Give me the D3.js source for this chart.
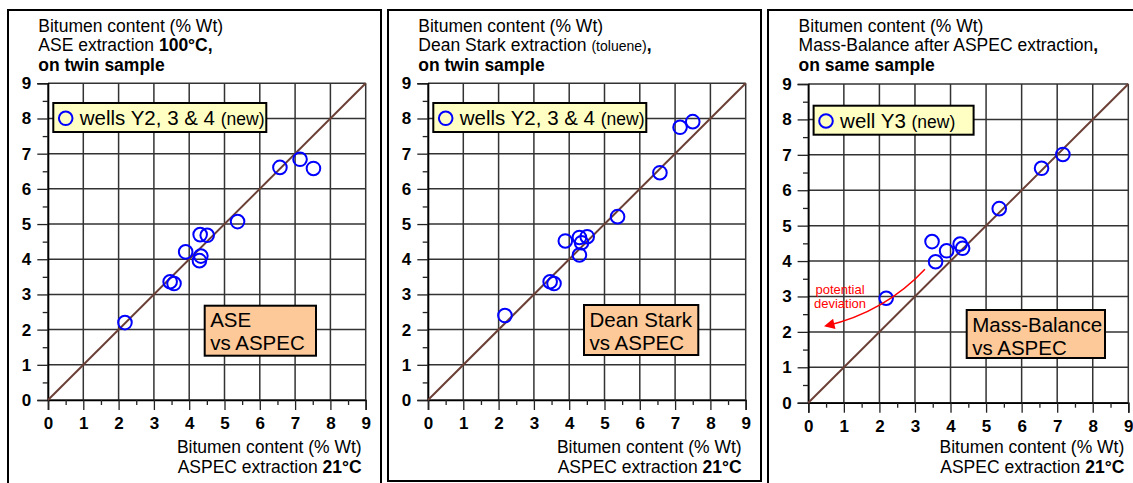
<!DOCTYPE html>
<html>
<head>
<meta charset="utf-8">
<script src="https://cdn.jsdelivr.net/npm/d3@7"></script>
<style>
  body { margin: 0; background: #fff; }
  svg { display: block; font-family: "Liberation Sans", Arial, sans-serif; }
</style>
</head>
<body>
<div class="canvas"></div>
<script>
// ---- data ----
const ticks = [0, 1, 2, 3, 4, 5, 6, 7, 8, 9];
const halfTicks = [0.5, 1.5, 2.5, 3.5, 4.5, 5.5, 6.5, 7.5, 8.5];

const aspecA = [2.18, 3.46, 3.57, 3.90, 4.31, 4.51, 4.33, 4.29, 5.37, 6.57, 7.14, 7.52];
const aseVals = [2.20, 3.36, 3.31, 4.21, 4.70, 4.68, 4.09, 3.96, 5.07, 6.61, 6.84, 6.58];

const aspecB = [2.18, 3.46, 3.57, 3.89, 4.29, 4.35, 4.51, 4.29, 5.37, 6.57, 7.14, 7.50];
const deanVals = [2.40, 3.36, 3.31, 4.52, 4.62, 4.47, 4.64, 4.12, 5.21, 6.46, 7.75, 7.91];

const aspecC = [2.19, 3.48, 3.58, 3.89, 4.27, 4.34, 5.37, 6.56, 7.16];
const massVals = [2.95, 4.55, 3.98, 4.29, 4.48, 4.36, 5.48, 6.62, 7.01];

const legendLabels = ["wells Y2, 3 & 4", "wells Y2, 3 & 4", "well Y3"];
const boxLabels = [["ASE", "vs ASPEC"], ["Dean Stark", "vs ASPEC"], ["Mass-Balance", "vs ASPEC"]];

// deviation arrow in data units: start, control, end
const devArrow = [[3.28, 3.77], [2.15, 2.56], [0.5, 2.17]];

const width = 1133, height = 483;
const font = 17.5;

const svg = d3.select('.canvas').append('svg')
  .attr("width", width)
  .attr("height", height);

svg.append("defs").append("marker")
  .attr("id", "redhead")
  .attr("viewBox", "0 0 10 10")
  .attr("refX", 8).attr("refY", 5)
  .attr("markerWidth", 9).attr("markerHeight", 7)
  .attr("orient", "auto")
  .append("path")
  .attr("d", "M0,0 L10,5 L0,10 z")
  .attr("fill", "#ff0000");

const panels = [
  { left: 8, right: 381, bottom: 492, x0: 48, x9: 365.7, y0: 400, y9: 83.3,
    xs: aspecA, ys: aseVals, legendW: 213, box: [204.7, 305.7, 111.3, 50] },
  { left: 388, right: 761, bottom: 481, x0: 428, x9: 745.7, y0: 400, y9: 83.3,
    xs: aspecB, ys: deanVals, legendW: 213, box: [584, 305, 114.3, 50] },
  { left: 768, right: 1141, bottom: 492, x0: 808.3, x9: 1128.3, y0: 402.7, y9: 84,
    xs: aspecC, ys: massVals, legendW: 160, box: [966.7, 310, 138.3, 48] }
];

panels.forEach((p, idx) => {
  const g = svg.append('g');

  // panel frame
  g.append('rect')
    .attr("x", p.left).attr("y", 10)
    .attr("width", p.right - p.left).attr("height", p.bottom - 10)
    .attr("fill", "none").attr("stroke", "#000").attr("stroke-width", 2);

  const x = d3.scaleLinear().domain([0, 9]).range([p.x0, p.x9]);
  const y = d3.scaleLinear().domain([0, 9]).range([p.y0, p.y9]);

  // title lines
  const tx = p.x0 - 9.7;
  g.append('text').attr("x", tx).attr("y", 31.7).style("font-size", font + "px")
    .text("Bitumen content (% Wt)");
  const t2 = g.append('text').attr("x", tx).attr("y", 51.2).style("font-size", font + "px");
  const t3 = g.append('text').attr("x", tx).attr("y", 70.5).style("font-size", font + "px")
    .style("font-weight", "bold");
  if (idx === 0) {
    t2.append('tspan').text("ASE extraction ");
    t2.append('tspan').style("font-weight", "bold").text("100°C,");
    t3.text("on twin sample");
  } else if (idx === 1) {
    t2.append('tspan').text("Dean Stark extraction ");
    t2.append('tspan').style("font-size", "14px").text("(toluene)");
    t2.append('tspan').style("font-weight", "bold").text(",");
    t3.text("on twin sample");
  } else {
    t2.append('tspan').text("Mass-Balance after ASPEC extraction");
    t2.append('tspan').style("font-weight", "bold").text(",");
    t3.text("on same sample");
  }

  // grid
  g.append('g').selectAll('line.v').data(ticks).enter().append('line')
    .attr("x1", d => x(d)).attr("x2", d => x(d))
    .attr("y1", y(0)).attr("y2", y(9))
    .attr("stroke", "#333").attr("stroke-width", 1.5);
  g.append('g').selectAll('line.h').data(ticks).enter().append('line')
    .attr("y1", d => y(d)).attr("y2", d => y(d))
    .attr("x1", x(0)).attr("x2", x(9))
    .attr("stroke", "#333").attr("stroke-width", 1.5);

  // axes
  const yAxis = d3.axisLeft(y).tickValues(ticks).tickSize(10.7).tickPadding(6)
    .tickFormat(d3.format("d"));
  const yMinor = d3.axisLeft(y).tickValues(halfTicks).tickSize(5.3).tickFormat("");
  const xAxis = d3.axisBottom(x).tickValues(ticks).tickSize(10).tickPadding(7)
    .tickFormat(d3.format("d"));
  const xMinor = d3.axisBottom(x).tickValues(halfTicks).tickSize(5).tickFormat("");

  const yg = g.append('g').attr("transform", `translate(${x(0)},0)`).call(yAxis);
  g.append('g').attr("transform", `translate(${x(0)},0)`).call(yMinor)
    .call(s => s.select(".domain").remove());
  const xg = g.append('g').attr("transform", `translate(0,${y(0)})`).call(xAxis);
  g.append('g').attr("transform", `translate(0,${y(0)})`).call(xMinor)
    .call(s => s.select(".domain").remove());

  [yg, xg].forEach(a => {
    a.select(".domain").attr("stroke", "#000").attr("stroke-width", 1.6);
    a.selectAll(".tick text")
      .attr("fill", "#000")
      .style("font-family", '"Liberation Sans", Arial, sans-serif')
      .style("font-size", "17px").style("font-weight", "bold");
  });
  svg.selectAll(".tick line").attr("stroke", "#222").attr("stroke-width", 1.3);

  // 1:1 line
  g.append('line')
    .attr("x1", x(0)).attr("y1", y(0)).attr("x2", x(9)).attr("y2", y(9))
    .attr("stroke", "#6b3f36").attr("stroke-width", 2);

  // x axis title
  g.append('text').attr("x", x(9) - 4).attr("y", 453).attr("text-anchor", "end")
    .style("font-size", font + "px").text("Bitumen content (% Wt)");
  const xt = g.append('text').attr("x", x(9) - 4).attr("y", 473).attr("text-anchor", "end")
    .style("font-size", font + "px");
  xt.append('tspan').text("ASPEC extraction ");
  xt.append('tspan').style("font-weight", "bold").text("21°C");

  // legend
  const lx = x(0) + 5.3, ly = y(0) - 297;
  g.append('rect').attr("x", lx).attr("y", ly).attr("width", p.legendW).attr("height", 29)
    .attr("fill", "#ffffc4").attr("stroke", "#000").attr("stroke-width", 2);
  g.append('circle').attr("cx", lx + 12.4).attr("cy", ly + 15.3).attr("r", 6.8)
    .attr("fill", "none").attr("stroke", "#0000ff").attr("stroke-width", 2);
  const lt = g.append('text').attr("x", lx + 26.5).attr("y", ly + 22.3).style("font-size", "20.5px");
  lt.append('tspan').text(legendLabels[idx] + " ");
  lt.append('tspan').style("font-size", "17.5px").text("(new)");

  // method box
  const b = p.box;
  g.append('rect').attr("x", b[0]).attr("y", b[1]).attr("width", b[2]).attr("height", b[3])
    .attr("fill", "#fdc999").attr("stroke", "#000").attr("stroke-width", 2);
  g.selectAll('text.box').data(boxLabels[idx]).enter().append('text')
    .attr("x", b[0] + 5.5).attr("y", (d, i) => b[1] + 21.5 + i * 23)
    .style("font-size", "20.5px").text(d => d);

  // points
  g.append('g').selectAll('circle').data(p.xs.map((v, i) => [v, p.ys[i]])).enter()
    .append('circle')
    .attr("cx", d => x(d[0])).attr("cy", d => y(d[1])).attr("r", 6.8)
    .attr("fill", "none").attr("stroke", "#0000ff").attr("stroke-width", 2);

  if (idx === 2) {
    const path = d3.path();
    path.moveTo(x(devArrow[0][0]), y(devArrow[0][1]));
    path.quadraticCurveTo(x(devArrow[1][0]), y(devArrow[1][1]), x(devArrow[2][0]), y(devArrow[2][1]));
    g.append('path').attr("d", path.toString())
      .attr("fill", "none").attr("stroke", "#ff0000").attr("stroke-width", 1.5)
      .attr("marker-end", "url(#redhead)");
    g.selectAll('text.dev').data(["potential", "deviation"]).enter().append('text')
      .attr("x", 840).attr("y", (d, i) => 293.5 + i * 14.8)
      .attr("text-anchor", "middle").attr("fill", "#ff0000")
      .style("font-size", "13px").text(d => d);
  }
});
</script>
</body>
</html>
